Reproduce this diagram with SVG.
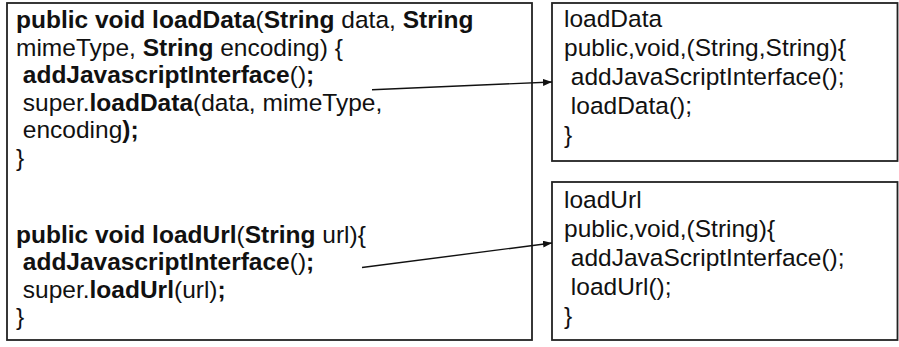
<svg xmlns="http://www.w3.org/2000/svg" width="899" height="347" viewBox="0 0 899 347">
  <style>
    .box { fill: #ffffff; stroke: #222222; stroke-width: 1.8; }
    .code { font-family: "Liberation Sans", Arial, sans-serif; font-size: 24.5px; fill: #111111; }
    .b { font-weight: bold; }
    .link { stroke: #111111; stroke-width: 1.4; fill: none; marker-end: url(#head); }
  </style>
  <defs>
    <marker id="head" viewBox="0 0 9 7" refX="9" refY="3.5" markerWidth="9" markerHeight="7" markerUnits="userSpaceOnUse" orient="auto">
      <path d="M0,0 L9,3.5 L0,7 z" fill="#111111"/>
    </marker>
  </defs>
  <rect width="899" height="347" fill="#ffffff"/>

  <!-- overridden WebView methods -->
  <g id="source">
    <rect class="box" x="7" y="3" width="525" height="337"/>
    <text class="code" x="16" y="28"><tspan class="b">public void loadData</tspan>(<tspan class="b">String</tspan> data, <tspan class="b">String</tspan></text>
    <text class="code" x="16" y="55.5">mimeType, <tspan class="b">String</tspan> encoding) {</text>
    <text class="code" x="16" y="83" xml:space="preserve"> <tspan class="b">addJavascriptInterface</tspan>()<tspan class="b">;</tspan></text>
    <text class="code" x="16" y="110.5" xml:space="preserve"> super.<tspan class="b">loadData</tspan>(data, mimeType,</text>
    <text class="code" x="16" y="138" xml:space="preserve"> encoding<tspan class="b">);</tspan></text>
    <text class="code" x="16" y="165.5">}</text>
    <text class="code" x="16" y="242.5"><tspan class="b">public void loadUrl</tspan>(<tspan class="b">String</tspan> url){</text>
    <text class="code" x="16" y="270" xml:space="preserve"> <tspan class="b">addJavascriptInterface</tspan>()<tspan class="b">;</tspan></text>
    <text class="code" x="16" y="297.5" xml:space="preserve"> super.<tspan class="b">loadUrl</tspan>(url)<tspan class="b">;</tspan></text>
    <text class="code" x="16" y="325">}</text>
  </g>

  <!-- extracted signature of loadData -->
  <g id="sig-loadData">
    <rect class="box" x="552" y="3" width="345.5" height="158"/>
    <text class="code" x="564" y="27">loadData</text>
    <text class="code" x="564" y="56">public,void,(String,String){</text>
    <text class="code" x="564" y="85" xml:space="preserve"> addJavaScriptInterface();</text>
    <text class="code" x="564" y="114" xml:space="preserve"> loadData();</text>
    <text class="code" x="564" y="143">}</text>
  </g>

  <!-- extracted signature of loadUrl -->
  <g id="sig-loadUrl">
    <rect class="box" x="552" y="182" width="345.5" height="158"/>
    <text class="code" x="564" y="208">loadUrl</text>
    <text class="code" x="564" y="237">public,void,(String){</text>
    <text class="code" x="564" y="266" xml:space="preserve"> addJavaScriptInterface();</text>
    <text class="code" x="564" y="295" xml:space="preserve"> loadUrl();</text>
    <text class="code" x="564" y="324">}</text>
  </g>

  <g id="connectors">
    <line class="link" x1="372" y1="89.7" x2="552" y2="82"/>
    <line class="link" x1="362" y1="267.5" x2="552" y2="243"/>
  </g>
</svg>
